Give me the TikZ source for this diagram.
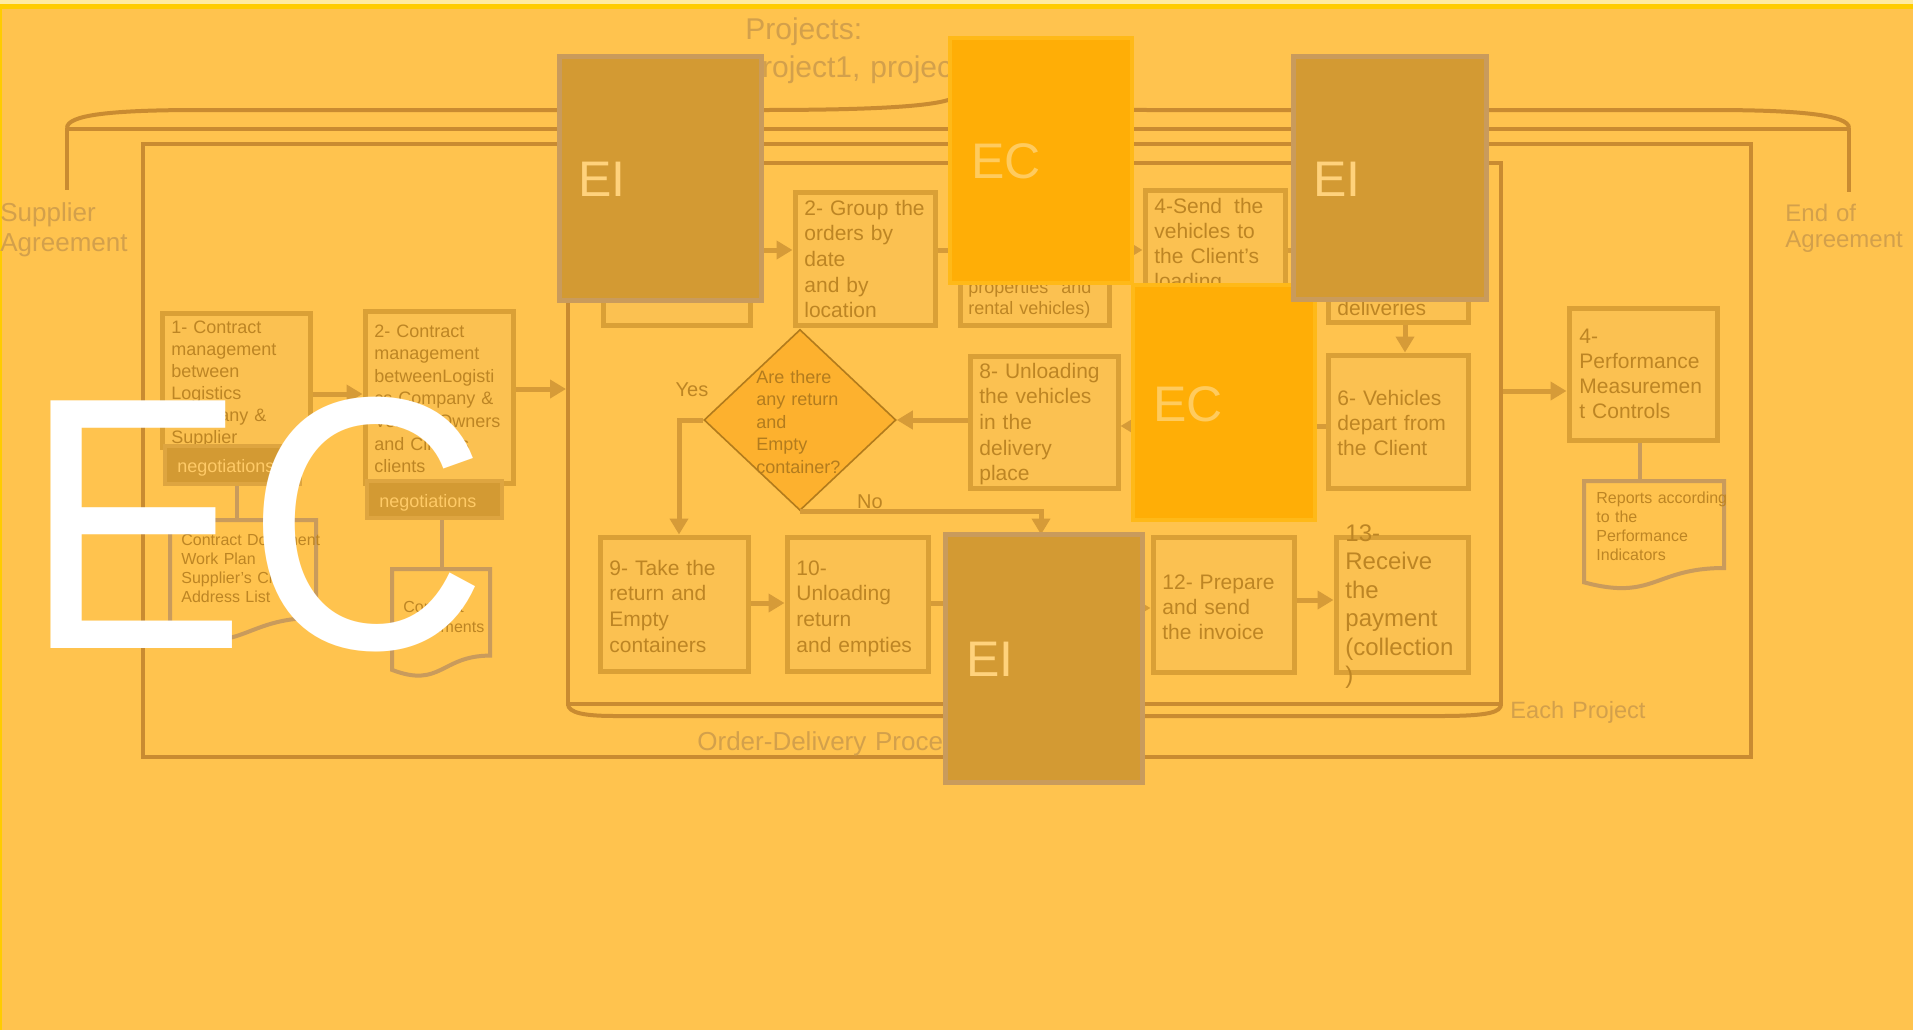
\documentclass[tikz,border=0pt]{standalone}
\usepackage{fontspec}
\setmainfont{Liberation Sans}
\newfontfamily\bigfont[FakeStretch=0.93]{Liberation Sans}
\usetikzlibrary{arrows.meta,calc,shapes.geometric}
\definecolor{bgc}{HTML}{FFC34E}
\definecolor{topc}{HTML}{FFCC00}
\definecolor{palec}{HTML}{FFEBA0}
\definecolor{boxf}{HTML}{FBC151}
\definecolor{boxd}{HTML}{DAA036}
\definecolor{linec}{HTML}{D69B38}
\definecolor{framec}{HTML}{C98B31}
\definecolor{txtc}{HTML}{BD8524}
\definecolor{labc}{HTML}{D3A04B}
\definecolor{eif}{HTML}{D39A33}
\definecolor{eid}{HTML}{C99B5C}
\definecolor{eit}{HTML}{FFD27C}
\definecolor{ecf}{HTML}{FFAE06}
\definecolor{ecd}{HTML}{FFB918}
\definecolor{ect}{HTML}{FFCB5E}
\definecolor{diaf}{HTML}{FDB12E}
\definecolor{diad}{HTML}{B27B1C}
\definecolor{diat}{HTML}{B37C1E}
\definecolor{negf}{HTML}{D39A33}
\definecolor{negd}{HTML}{DEA540}
\definecolor{negt}{HTML}{FFCA66}
\definecolor{docd}{HTML}{C99B5C}
\tikzset{
  box/.style={draw=boxd, fill=boxf, line width=2.5pt, inner sep=0pt},
  neg/.style={draw=negd, fill=negf, line width=2pt, inner sep=0pt},
  framebox/.style={draw=framec, line width=2pt, inner sep=0pt},
  frame/.style={draw=framec, line width=2pt},
  eib/.style={draw=eid, fill=eif, line width=2.5pt, inner sep=0pt},
  ecb/.style={draw=ecd, fill=ecf, line width=2pt, inner sep=0pt},
  dia/.style={diamond, draw=diad, fill=diaf, line width=0.8pt, inner sep=0pt, minimum width=96pt, minimum height=90.5pt},
  docn/.style={inner sep=0pt, outer sep=0pt},
  dline/.style={draw=docd, line width=2pt},
  arr/.style={draw=linec, line width=2.5pt, -{Triangle[length=8pt,width=9pt]}},
  ln/.style={draw=linec, line width=2.5pt},
  dln/.style={draw=docd, line width=2pt},
  tbase/.style={inner sep=0pt, align=left, text width=100pt},
  btxt/.style={tbase, text=txtc, font=\fontsize{10.5}{12.85}\selectfont},
  stxt/.style={tbase, text=txtc, font=\fontsize{9}{11}\selectfont},
  dtxt/.style={tbase, text=txtc, font=\fontsize{8}{9.5}\selectfont},
  negtxt/.style={tbase, text=negt, font=\fontsize{9}{11}\selectfont},
  lab/.style={tbase, text width=200pt, text=labc},
  yn/.style={inner sep=0pt, text=txtc, font=\fontsize{10}{12}\selectfont},
  bigt/.style={inner sep=0pt, anchor=base west, font=\fontsize{25}{30}\selectfont}
}
\newcommand\bx[6][box]{\node[#1, minimum width={(#5-#3)*0.5pt}, minimum height={(#6-#4)*0.5pt}] (#2) at ({(#3+#5)/2},{(#4+#6)/2}) {};}
\newcommand\tx[5][btxt]{\node[#1, anchor=base west] (#2) at (#3,#4) {#5};}
\newcommand\docpath[2]{\draw[dline] (#1.north west) -- (#1.north east) -- (#1.south east) .. controls (#1.south) and ($(#1.south)+(0,{0.3055*#2})$) .. ($(#1.south west)+(0,{0.132*#2})$) -- cycle;}
\begin{document}
\begin{tikzpicture}[x=0.5pt,y=-0.5pt]
\useasboundingbox (0,0) rectangle (1913,1030);
\fill[bgc] (0,0) rectangle (1913,1030);
\fill[palec] (0,0) rectangle (1913,4);
\fill[topc] (0,4) rectangle (1913,9);
\fill[topc] (0,4) rectangle (2,1030);

% brace and frames
\draw[frame] (67,128) .. controls (67,115) and (110,110) .. (200,110) -- (760,110) .. controls (880,110) and (958,106) .. (958,93) .. controls (958,106) and (1036,110) .. (1156,110) -- (1711,110) .. controls (1800,110) and (1849,115) .. (1849,128);
\draw[frame] (67,129) -- (1849,129);
\draw[frame] (67,128) -- (67,190);
\draw[frame] (1849,128) -- (1849,192);
\bx[framebox]{outer}{143}{144}{1751}{757}
\bx[framebox]{proc}{568}{163}{1501}{704}
\draw[frame] (568,704) .. controls (568,713) and (585,716) .. (615,716) -- (1440,716) .. controls (1490,716) and (1501,712) .. (1501,704);

% labels
\tx[lab, font=\fontsize{15}{19}\selectfont]{proj}{745}{39}{Projects:\\project1, project2}
\tx[lab, font=\fontsize{13}{15.3}\selectfont]{sa}{0}{221}{Supplier\\Agreement}
\tx[lab, font=\fontsize{12}{13}\selectfont]{ea}{1785}{221}{End of\\Agreement}
\tx[lab, font=\fontsize{11.8}{14}\selectfont]{ep}{1510}{718}{Each Project}
\tx[lab, font=\fontsize{13}{15}\selectfont]{odp}{697}{750}{Order-Delivery Process}

% left column
\bx{A1}{162}{313}{310}{447}
\tx[stxt]{A1t}{171}{333}{1- Contract\\management\\between\\Logistics\\Company \&\\Supplier}
\bx[neg]{N1}{165}{446}{300}{484}
\bx{A2}{365}{311}{513}{483}
\tx[stxt, font=\fontsize{9}{11.3}\selectfont]{A2t}{374}{337}{2- Contract\\management\\betweenLogisti\\cs Company \&\\Vehicle Owners\\and Client's\\clients}
\bx[neg]{N2}{367}{481}{502}{518}
\node[docn, anchor=north west, minimum width=73pt, minimum height=48.9pt] (D1) at (170,520) {};
\docpath{D1}{122}
\node[docn, anchor=north west, minimum width=49pt, minimum height=43.3pt] (D2) at (392,569) {};
\docpath{D2}{108}

% process boxes
\bx{B1}{603}{192}{750}{325}
\bx{B2}{795}{192}{935}{325}
\bx{B3}{960}{192}{1109}{325}
\bx{B4}{1145}{190}{1285}{323}
\bx{B5}{1328}{192}{1468}{322}
\bx{B6}{1328}{355}{1468}{488}
\bx{B7}{1145}{355}{1290}{488}
\bx{B8}{970}{356}{1118}{488}
\node[dia] (D) at (800,420) {};
\bx{B9}{600}{537}{748}{671}
\bx{B10}{787}{537}{928}{671}
\bx{B11}{970}{537}{1125}{671}
\bx{B12}{1153}{537}{1294}{672}
\bx{B13}{1336}{537}{1468}{672}
\bx{P4}{1569}{308}{1717}{440}
\node[docn, anchor=north west, minimum width=70pt, minimum height=43.5pt] (D3) at (1584,481) {};
\docpath{D3}{108.5}

% connectors
\coordinate (yA) at (0,389);
\coordinate (yB) at (0,394);
\coordinate (r1) at (0,250);
\coordinate (r2) at (0,426);
\coordinate (r3) at (0,603);
\coordinate (r3b) at (0,608);
\coordinate (r3c) at (0,600);
\coordinate (r4) at (0,391);
\coordinate (vx) at (1405,0);
\coordinate (yx) at (679,0);
\coordinate (n1x) at (237,0);
\coordinate (n2x) at (442,0);
\coordinate (p4x) at (1640,0);
\coordinate (nox) at (1041,0);
\draw[arr] (A1.east |- yB) -- (A2.west |- yB);
\draw[arr] (A2.east |- yA) -- (proc.west |- yA);
\draw[dln] (n1x |- N1.south) -- (n1x |- D1.north);
\draw[dln] (n2x |- N2.south) -- (n2x |- D2.north);
\draw[arr] (B1.east |- r1) -- (B2.west |- r1);
\draw[ln] (B2.east |- r1) -- (B3.west |- r1);
\draw[arr] (B3.east |- r1) -- (B4.west |- r1);
\draw[arr] (B4.east |- r1) -- (B5.west |- r1);
\draw[arr] (vx |- B5.south) -- (vx |- B6.north);
\draw[arr] (B6.west |- r2) -- (B7.east |- r2);
\draw[arr] (B7.west |- r2) -- (B8.east |- r2);
\draw[arr] (B8.west |- D.east) -- (D.east);
\draw[arr] (D.west) -| (yx |- B9.north);
\draw[arr] (D.south) -| (nox |- B11.north);
\draw[arr] (B9.east |- r3) -- (B10.west |- r3);
\draw[ln] (B10.east |- r3) -- (B11.west |- r3);
\draw[arr] (B11.east |- r3b) -- (B12.west |- r3b);
\draw[arr] (B12.east |- r3c) -- (B13.west |- r3c);
\draw[arr] (proc.east |- r4) -- (P4.west |- r4);
\draw[dln] (p4x |- P4.south) -- (p4x |- D3.north);

% texts
\tx[negtxt]{N1t}{177}{472}{negotiations}
\tx[dtxt]{D1t}{181}{545}{Contract Document\\Work Plan\\Supplier's Client\\Address List}
\tx[negtxt]{N2t}{379}{507}{negotiations}
\tx[dtxt, font=\fontsize{8}{10}\selectfont]{D2t}{403}{612}{Contract\\Documents}
\tx{B2t}{804}{215}{2- Group the\\orders by\\date\\and by\\location}
\tx[stxt, font=\fontsize{9}{10.5}\selectfont, text width=61.5pt]{B3t}{968}{293}{properties\hfill and\\rental vehicles)}
\tx[btxt, font=\fontsize{10.5}{12.5}\selectfont, text width=54.5pt]{B4t}{1154}{213}{4-Send\hfill the\\vehicles to\\the Client's\\loading}
\tx{B5t}{1337}{315}{deliveries}
\tx[btxt, font=\fontsize{10.5}{12.65}\selectfont]{B6t}{1337}{405}{6- Vehicles\\depart from\\the Client}
\tx{B8t}{979}{378}{8- Unloading\\the vehicles\\in the\\delivery\\place}
\tx[tbase, text=diat, font=\fontsize{9}{11.25}\selectfont]{Dt}{756}{383}{Are there\\any return\\and\\Empty\\container?}
\tx{B9t}{609}{575}{9- Take the\\return and\\Empty\\containers}
\tx{B10t}{796}{575}{10-\\Unloading\\return\\and empties}
\tx[btxt, font=\fontsize{10.5}{12.5}\selectfont]{B12t}{1162}{589}{12- Prepare\\and send\\the invoice}
\tx[btxt, font=\fontsize{12}{14.25}\selectfont]{B13t}{1345}{541}{13-\\Receive\\the\\payment\\(collection\\)}
\tx[btxt, font=\fontsize{10.5}{12.65}\selectfont]{P4t}{1579}{343}{4-\\Performance\\Measuremen\\t Controls}
\tx[dtxt]{D3t}{1596}{503}{Reports according\\to the\\Performance\\Indicators}
\node[yn] (yes) at (692,390) {Yes};
\node[yn] (no) at (870,502) {No};

% overlays
\bx[ecb]{EC1}{950}{38}{1132}{283}
\bx[ecb]{EC2}{1133}{285}{1315}{520}
\bx[eib]{EI1}{559}{56}{761}{300}
\bx[eib]{EI2}{1293}{56}{1486}{299}
\bx[eib]{EI3}{945}{534}{1142}{782}
\node[bigt, text=ect] (EC1t) at (971,178) {EC};
\node[bigt, text=ect] (EC2t) at (1153,421) {EC};
\node[bigt, text=eit] (EI1t) at (578,196) {EI};
\node[bigt, text=eit] (EI2t) at (1313,196) {EI};
\node[bigt, text=eit] (EI3t) at (966,676) {EI};

% big white EC
\node[inner sep=0pt, anchor=base west, text=white, font=\bigfont\fontsize{180}{190}\selectfont] (bigEC) at (23,648) {EC};
\end{tikzpicture}
\end{document}
